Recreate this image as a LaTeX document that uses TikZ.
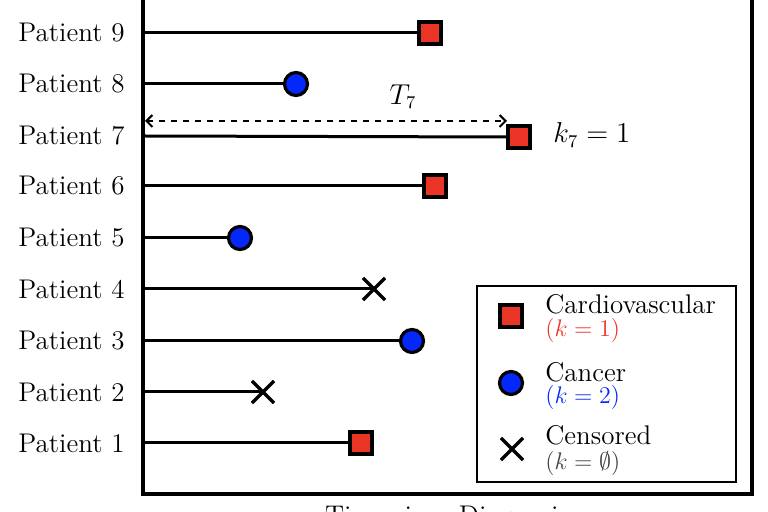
\documentclass[tikz,border=0pt]{standalone}
\usetikzlibrary{shapes.misc,arrows.meta}
\definecolor{cvred}{RGB}{234,53,38}
\definecolor{cablue}{RGB}{5,40,250}
\begin{document}
\begin{tikzpicture}[x=0.5pt,y=-0.5pt,
  font=\fontsize{13.5}{15}\selectfont,
  lbl/.style={anchor=east,inner sep=0pt},
  sq/.style={draw=black,fill=cvred,line width=1.6pt,rectangle,minimum size=11pt,inner sep=0pt},
  ci/.style={draw=black,fill=cablue,line width=1.6pt,circle,minimum size=11.5pt,inner sep=0pt},
  cx/.style={draw=black,line width=1.6pt,cross out,minimum size=9.5pt,inner sep=0pt},
  track/.style={line width=1.5pt},
  legtxt/.style={anchor=west,inner sep=0pt},
  legsub/.style={anchor=west,inner sep=0pt,font=\fontsize{12}{13}\selectfont}]
\useasboundingbox (0,0) rectangle (768,512);
% frame
\draw[line width=2pt] (143,-20) rectangle (752,494);
% labels
\foreach \i/\y in {9/33,8/84,7/136,6/186,5/238,4/289,3/341,2/392,1/443}{
  \node[lbl] (p\i) at (125,\y) {Patient \i};
  \coordinate (s\i) at (143,\y);
}
% markers
\node[sq] (m9) at (430,33) {};
\node[ci] (m8) at (296,84) {};
\node[sq] (m7) at (519,137) {};
\node[sq] (m6) at (435,186) {};
\node[ci] (m5) at (240,238) {};
\node[cx] (m4) at (374,289) {};
\node[ci] (m3) at (412,341) {};
\node[cx] (m2) at (263,392) {};
\node[sq] (m1) at (361,443) {};
\draw[track] (s9) -- (m9.west);
\draw[track] (s8) -- (m8.west);
\draw[track] (s7) -- (m7.west);
\draw[track] (s6) -- (m6.west);
\draw[track] (s5) -- (m5.west);
\draw[track] (s4) -- (m4.center);
\draw[track] (s3) -- (m3.west);
\draw[track] (s2) -- (m2.center);
\draw[track] (s1) -- (m1.west);
% T7 arrow
\coordinate (a1) at (145,121);
\coordinate (a2) at (507,121);
\draw[line width=1pt,dashed,{Straight Barb[length=3pt,width=6pt]}-{Straight Barb[length=3pt,width=6pt]}] (a1) -- (a2);
\node (t7) at (403,97) {$T_7$};
\node[legtxt] (k7) at (553,135) {$k_7 = 1$};
% legend
\draw[line width=1pt] (477,286) rectangle (736,482);
\node[sq] (l1) at (511,316) {};
\node[ci] (l2) at (511,383) {};
\node[cx] (l3) at (512,449) {};
\node[legtxt] (l1a) at (545,304) {Cardiovascular};
\node[legsub,text=cvred] (l1b) at (545,331) {$(k=1)$};
\node[legtxt] (l2a) at (545,372) {Cancer};
\node[legsub,text=cablue] (l2b) at (545,398) {$(k=2)$};
\node[legtxt] (l3a) at (545,435) {Censored};
\node[legsub,text=black!75] (l3b) at (545,464) {$(k=\emptyset)$};
% axis label
\node[anchor=north,inner sep=0pt] (xl) at (447,506) {Time since Diagnosis};
\end{tikzpicture}
\end{document}
